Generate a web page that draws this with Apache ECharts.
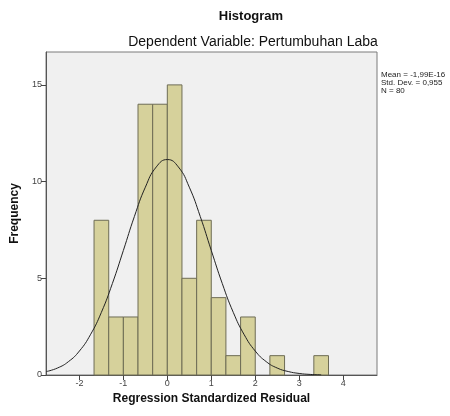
<!DOCTYPE html>
<html lang="en">
<head>
    <meta charset="UTF-8">
    <title>Histogram</title>
    <style>
        html, body { margin: 0; padding: 0; background: #fff; }
        #chart { width: 450px; height: 416px; }
    </style>
    <script src="https://cdn.jsdelivr.net/npm/echarts@6/dist/echarts.min.js"></script>
</head>
<body>
    <div id="chart"></div>
    <script>
        // bins of width 1/3, left and right edges
        var binLeft = [-1.667, -1.333, -1, -0.667, -0.333, 0, 0.333, 0.667, 1, 1.333, 1.667, 2, 2.333, 2.667, 3, 3.333];
        var binRight = [-1.333, -1, -0.667, -0.333, 0, 0.333, 0.667, 1, 1.333, 1.667, 2, 2.333, 2.667, 3, 3.333, 3.667];
        var counts = [8, 3, 3, 14, 14, 15, 5, 8, 4, 1, 3, 0, 1, 0, 0, 1];

        // normal curve
        var curveX = [-2.75, -2.5, -2.25, -2, -1.75, -1.5, -1.25, -1, -0.75, -0.5, -0.25, 0, 0.25, 0.5, 0.75, 1, 1.25, 1.5, 1.75, 2, 2.25, 2.5, 2.75, 3, 3.25, 3.5];
        var curveY = [0.18, 0.36, 0.69, 1.24, 2.08, 3.24, 4.73, 6.44, 8.19, 9.71, 10.76, 11.14, 10.76, 9.71, 8.19, 6.44, 4.73, 3.24, 2.08, 1.24, 0.69, 0.36, 0.18, 0.08, 0.03, 0.01];

        var xTicks = [-2, -1, 0, 1, 2, 3, 4];
        var yTicks = [0, 5, 10, 15];
        var statsLines = ['Mean = -1,99E-16', 'Std. Dev. = 0,955', 'N = 80'];

        var barData = [];
        for (var i = 0; i < counts.length; i++) {
            if (counts[i] > 0) barData.push([binLeft[i], binRight[i], counts[i]]);
        }
        var lineData = curveX.map(function (x, i) { return [x, curveY[i]]; });

        var myChart = echarts.init(document.getElementById('chart'));
        var font = 'Arial, "Liberation Sans", sans-serif';

        var option = {
            animation: false,
            textStyle: { fontFamily: font },
            title: [
                {
                    text: 'Histogram',
                    left: 251, top: 10, textAlign: 'center', padding: 0,
                    textStyle: { fontSize: 13, fontWeight: 'bold', color: '#111', fontFamily: font }
                },
                {
                    text: 'Dependent Variable: Pertumbuhan Laba',
                    left: 253, top: 35, textAlign: 'center', padding: 0,
                    textStyle: { fontSize: 14, fontWeight: 'normal', color: '#111', fontFamily: font }
                },
                {
                    text: statsLines.join('\n'),
                    left: 381, top: 71, padding: 0,
                    textStyle: { fontSize: 8, fontWeight: 'normal', color: '#222', lineHeight: 8, fontFamily: font }
                }
            ],
            grid: {
                left: 46, right: 73, top: 52, bottom: 41,
                show: true, backgroundColor: '#f0f0f0', borderColor: '#7a7a7a', borderWidth: 1
            },
            xAxis: {
                type: 'value', min: -2.76, max: 4.77,
                name: 'Regression Standardized Residual',
                nameLocation: 'middle', nameGap: 16,
                nameTextStyle: { fontSize: 12, fontWeight: 'bold', color: '#111' },
                axisLine: { show: true, onZero: false, lineStyle: { color: '#555' } },
                axisTick: { show: true, length: 5, customValues: xTicks, lineStyle: { color: '#444' } },
                axisLabel: { customValues: xTicks, fontSize: 9, color: '#444', margin: 4 },
                splitLine: { show: false }
            },
            yAxis: {
                type: 'value', min: 0, max: 16.7,
                name: 'Frequency',
                nameLocation: 'middle', nameGap: 23,
                nameTextStyle: { fontSize: 12, fontWeight: 'bold', color: '#111' },
                axisLine: { show: true, onZero: false, lineStyle: { color: '#555' } },
                axisTick: { show: true, length: 5, customValues: yTicks, lineStyle: { color: '#444' } },
                axisLabel: { customValues: yTicks, fontSize: 9, color: '#444', margin: 4 },
                splitLine: { show: false }
            },
            series: [
                {
                    type: 'custom',
                    data: barData,
                    encode: { x: [0, 1], y: 2 },
                    renderItem: function (params, api) {
                        var p0 = api.coord([api.value(0), api.value(2)]);
                        var p1 = api.coord([api.value(1), 0]);
                        return {
                            type: 'rect',
                            shape: { x: p0[0], y: p0[1], width: p1[0] - p0[0], height: p1[1] - p0[1] },
                            style: { fill: '#d6d19b', stroke: '#6e6c55', lineWidth: 1 }
                        };
                    }
                },
                {
                    type: 'line',
                    data: lineData,
                    smooth: true,
                    showSymbol: false,
                    lineStyle: { color: '#222', width: 1 },
                    z: 5
                }
            ]
        };

        myChart.setOption(option);
    </script>
</body>
</html>
